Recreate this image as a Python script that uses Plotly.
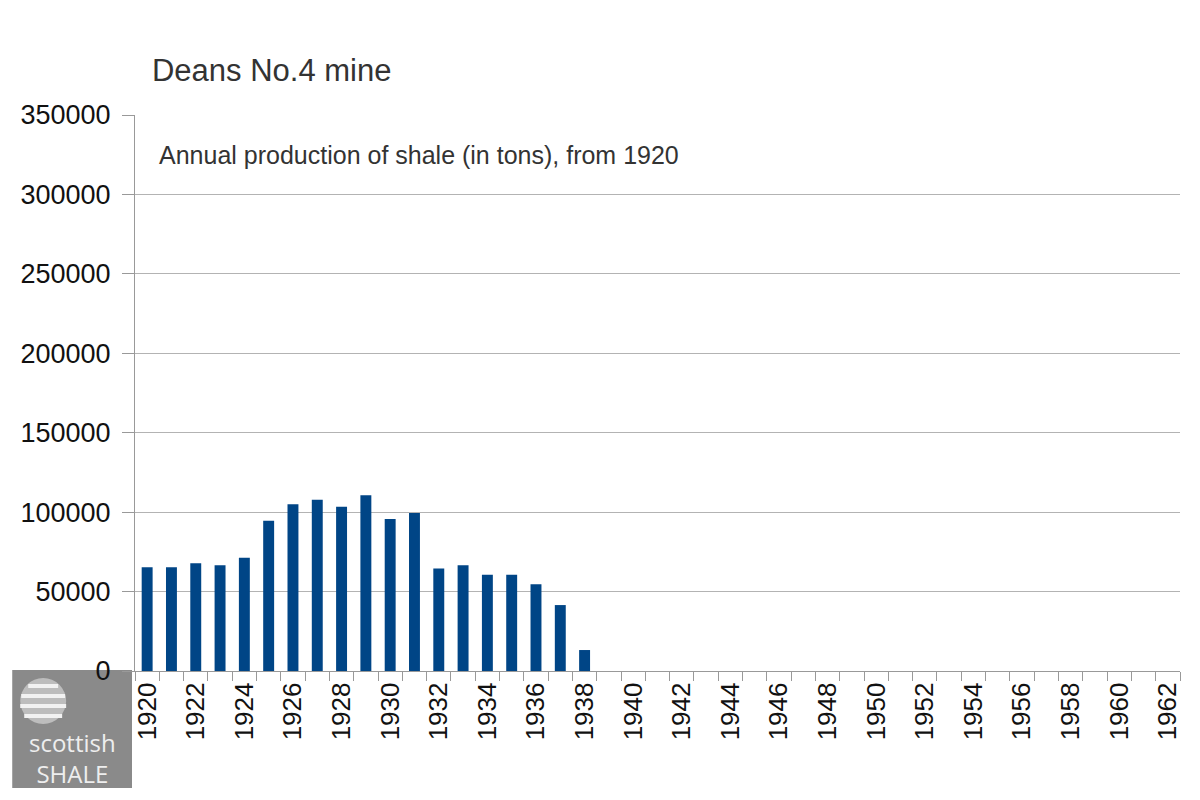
import plotly.graph_objects as go

# Deans No.4 mine - annual shale output (tons)
years = [str(y) for y in range(1920, 1963)]
prod_years = [str(y) for y in range(1920, 1939)]
production = [65300, 65300, 67800, 66500, 71300, 94600, 104900, 107800, 103400,
              110600, 95700, 99500, 64600, 66500, 60600, 60600, 54600, 41500, 13200]
tick_labels = [y if int(y) % 2 == 0 else "" for y in years]

W, H = 1200, 800
OFF = 8  # page body margin shifts the figure by this much
L, R, T, B = 133 - OFF, 28, 115 - OFF, 137
pw, ph = W - L - R, H - T - B


def px(x):
    # screen pixel -> paper fraction
    return (x - OFF - L) / pw


def py(y):
    return (H - B - (y - OFF)) / ph


fig = go.Figure()
fig.add_trace(go.Bar(x=prod_years, y=production, marker_color="#004586",
                     marker_line_width=0))

fig.update_layout(
    width=W, height=H,
    margin=dict(l=L, r=R, t=T, b=B),
    plot_bgcolor="white", paper_bgcolor="white",
    font=dict(family="Liberation Sans, Arial, sans-serif", color="#111111"),
    bargap=0.55,
    showlegend=False,
    title=dict(text="Deans No.4 mine", xref="paper", x=px(150), xanchor="left",
               yref="container", y=1 - (70 - OFF) / H, yanchor="middle",
               font=dict(size=31, color="#333333")),
)

fig.update_xaxes(
    type="category", categoryorder="array", categoryarray=years,
    range=[-0.5, len(years) - 0.5],
    tickmode="array", tickvals=years, ticktext=tick_labels,
    tickangle=-90, tickfont=dict(size=26),
    ticks="outside", tickson="boundaries", ticklen=9, tickcolor="#999999",
    showline=True, linecolor="#999999", linewidth=1.2,
    showgrid=False,
)
fig.update_yaxes(
    range=[0, 350000], dtick=50000,
    tickfont=dict(size=27), tickformat="d",
    ticks="outside", ticklen=12, tickcolor="#999999", ticklabelstandoff=6,
    showline=True, linecolor="#999999", linewidth=1.2,
    showgrid=True, gridcolor="#b3b3b3", gridwidth=1.2,
    zeroline=False,
)

fig.add_annotation(text="Annual production of shale (in tons), from 1920",
                   xref="paper", yref="paper", x=px(155), y=py(155),
                   xanchor="left", yanchor="middle", showarrow=False,
                   font=dict(size=25, color="#333333"))

# scottish shale logo in the bottom-left corner
fig.add_shape(type="rect", xref="paper", yref="paper", layer="below",
              x0=px(10), x1=px(130), y0=py(788), y1=py(670),
              fillcolor="#8a8a8a", line_width=0)
fig.add_shape(type="circle", xref="paper", yref="paper",
              x0=px(18), x1=px(64), y0=py(724), y1=py(678),
              fillcolor="#bdbdbd", line_width=0)
for yy, x0, x1 in [(686, 26, 56), (696, 19, 63), (706, 18, 64), (716, 22, 60)]:
    fig.add_shape(type="line", xref="paper", yref="paper",
                  x0=px(x0), x1=px(x1), y0=py(yy), y1=py(yy),
                  line=dict(color="#f2f2f2", width=4))
fig.add_annotation(text="scottish<br>SHALE", xref="paper", yref="paper",
                   x=px(70), y=py(758), xanchor="center", yanchor="middle",
                   showarrow=False,
                   font=dict(size=24, color="#eeeeee", family="Open Sans, sans-serif"))

fig.write_html("out.html")
